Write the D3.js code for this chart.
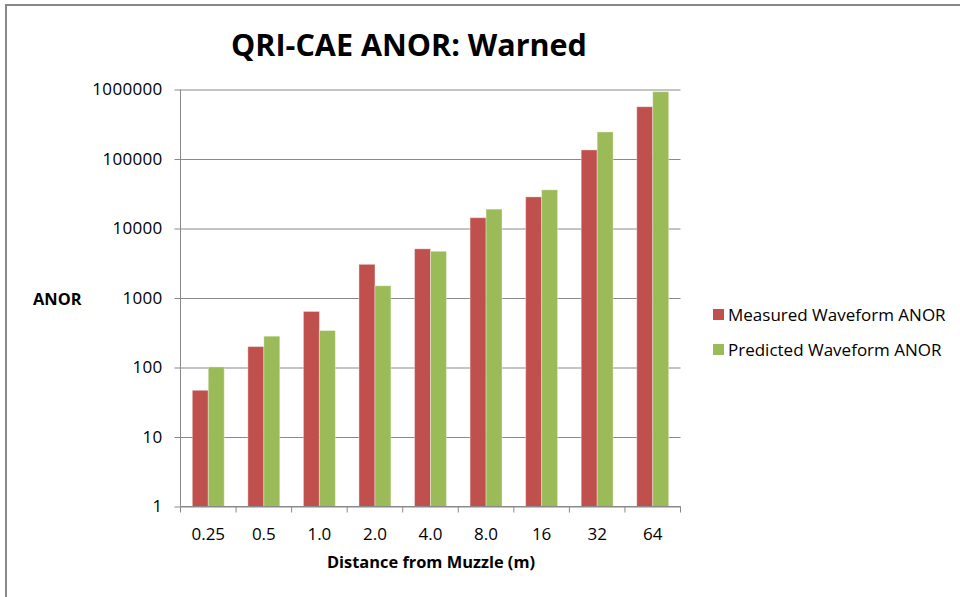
<!DOCTYPE html>
<html>
<head>
<meta charset="utf-8">
<script src="https://cdn.jsdelivr.net/npm/d3@7"></script>
<style>
  body { margin: 0; background: #fff; }
  text { font-family: "Open Sans", sans-serif; fill: #000; }
</style>
</head>
<body>
<div id="chart"></div>
<script>
var distances = ["0.25", "0.5", "1.0", "2.0", "4.0", "8.0", "16", "32", "64"];
var seriesNames = ["Measured Waveform ANOR", "Predicted Waveform ANOR"];
var measured = [47, 200, 640, 3050, 5100, 14300, 28500, 135000, 565000];
var predicted = [102, 282, 340, 1500, 4700, 19000, 36000, 245000, 930000];
var yTicks = [1, 10, 100, 1000, 10000, 100000, 1000000];

var width = 960;
var height = 597;
var plot = {left: 180.5, right: 680.5, top: 89.5, bottom: 506.5};
var colors = ["#C0504D", "#9BBB59"];
var gridColor = "#898989";

var data = distances.map(function(d, i) {
  return {dist: d, values: [measured[i], predicted[i]]};
});

var svg = d3.select("#chart").append("svg")
  .attr("width", width)
  .attr("height", height);

/* chart border */
svg.append("rect")
  .attr("x", 6).attr("y", 5)
  .attr("width", width + 10).attr("height", height + 10)
  .attr("fill", "none")
  .attr("stroke", "#888")
  .attr("stroke-width", 2);

/* Scales */
var x = d3.scaleBand()
  .domain(distances)
  .range([plot.left, plot.right])
  .padding(0);

var xSub = d3.scaleBand()
  .domain([0, 1])
  .range([0, x.bandwidth()])
  .paddingInner(0)
  .paddingOuter(0.74);

var y = d3.scaleLog()
  .domain([1, 1000000])
  .range([plot.bottom, plot.top]);

/* gridlines + y axis */
var yAxis = d3.axisLeft(y)
  .tickValues(yTicks)
  .tickFormat(d3.format("d"))
  .tickSize(-(plot.right - plot.left))
  .tickSizeOuter(0)
  .tickPadding(18);

var yg = svg.append("g")
  .attr("class", "y axis")
  .attr("transform", "translate(" + plot.left + ",0)")
  .call(yAxis);
yg.select(".domain").remove();
yg.selectAll(".tick line")
  .attr("x1", -6)
  .attr("stroke", gridColor);
yg.selectAll(".tick text")
  .style("font-size", "17px")
  .style("font-family", "Open Sans")
  .style("letter-spacing", "0.3px")
  .attr("fill", "#000");

svg.append("line")
  .attr("x1", plot.left).attr("x2", plot.left)
  .attr("y1", plot.top).attr("y2", plot.bottom)
  .attr("stroke", gridColor);

/* bars */
var groups = svg.append("g").attr("class", "bars")
  .selectAll("g")
  .data(data).enter()
  .append("g")
  .attr("transform", d => "translate(" + x(d.dist) + ",0)");

groups.selectAll("rect")
  .data(d => d.values).enter()
  .append("rect")
  .attr("x", (d, i) => xSub(i))
  .attr("width", xSub.bandwidth())
  .attr("y", d => y(d))
  .attr("height", d => plot.bottom - y(d))
  .attr("fill", (d, i) => colors[i])
  .attr("stroke", "rgba(255,255,255,0.35)")
  .attr("stroke-width", 1);

/* x axis */
var xAxis = d3.axisBottom(x)
  .tickSize(0)
  .tickPadding(21);

var xg = svg.append("g")
  .attr("class", "x axis")
  .attr("transform", "translate(0," + plot.bottom + ")")
  .call(xAxis);
xg.select(".domain").attr("stroke", gridColor).attr("d", "M" + plot.left + ",0H" + plot.right);
xg.selectAll(".tick text")
  .style("font-size", "17px")
  .style("font-family", "Open Sans")
  .attr("fill", "#000");

xg.selectAll(".boundary")
  .data(distances.concat(["end"])).enter()
  .append("line")
  .attr("class", "boundary")
  .attr("x1", (d, i) => plot.left + i * x.step())
  .attr("x2", (d, i) => plot.left + i * x.step())
  .attr("y1", 0).attr("y2", 6)
  .attr("stroke", gridColor);

/* titles */
svg.append("text")
  .attr("x", 409).attr("y", 56)
  .attr("text-anchor", "middle")
  .style("font-size", "30.5px")
  .style("font-weight", "bold")
  .text("QRI-CAE ANOR: Warned");

svg.append("text")
  .attr("x", 33).attr("y", 305)
  .style("font-size", "16.4px")
  .style("font-weight", "bold")
  .text("ANOR");

svg.append("text")
  .attr("x", 431).attr("y", 568)
  .attr("text-anchor", "middle")
  .style("font-size", "16.4px")
  .style("font-weight", "bold")
  .text("Distance from Muzzle (m)");

/* legend */
var legend = svg.append("g").attr("class", "legend")
  .selectAll("g")
  .data(seriesNames).enter()
  .append("g")
  .attr("transform", (d, i) => "translate(713," + (309 + i * 35) + ")");

legend.append("rect")
  .attr("width", 11).attr("height", 11)
  .attr("fill", (d, i) => colors[i]);

legend.append("text")
  .attr("x", 15).attr("y", 11.5)
  .style("font-size", "17px")
  .attr("fill", "#1a1a1a")
  .text(d => d);
</script>
</body>
</html>
